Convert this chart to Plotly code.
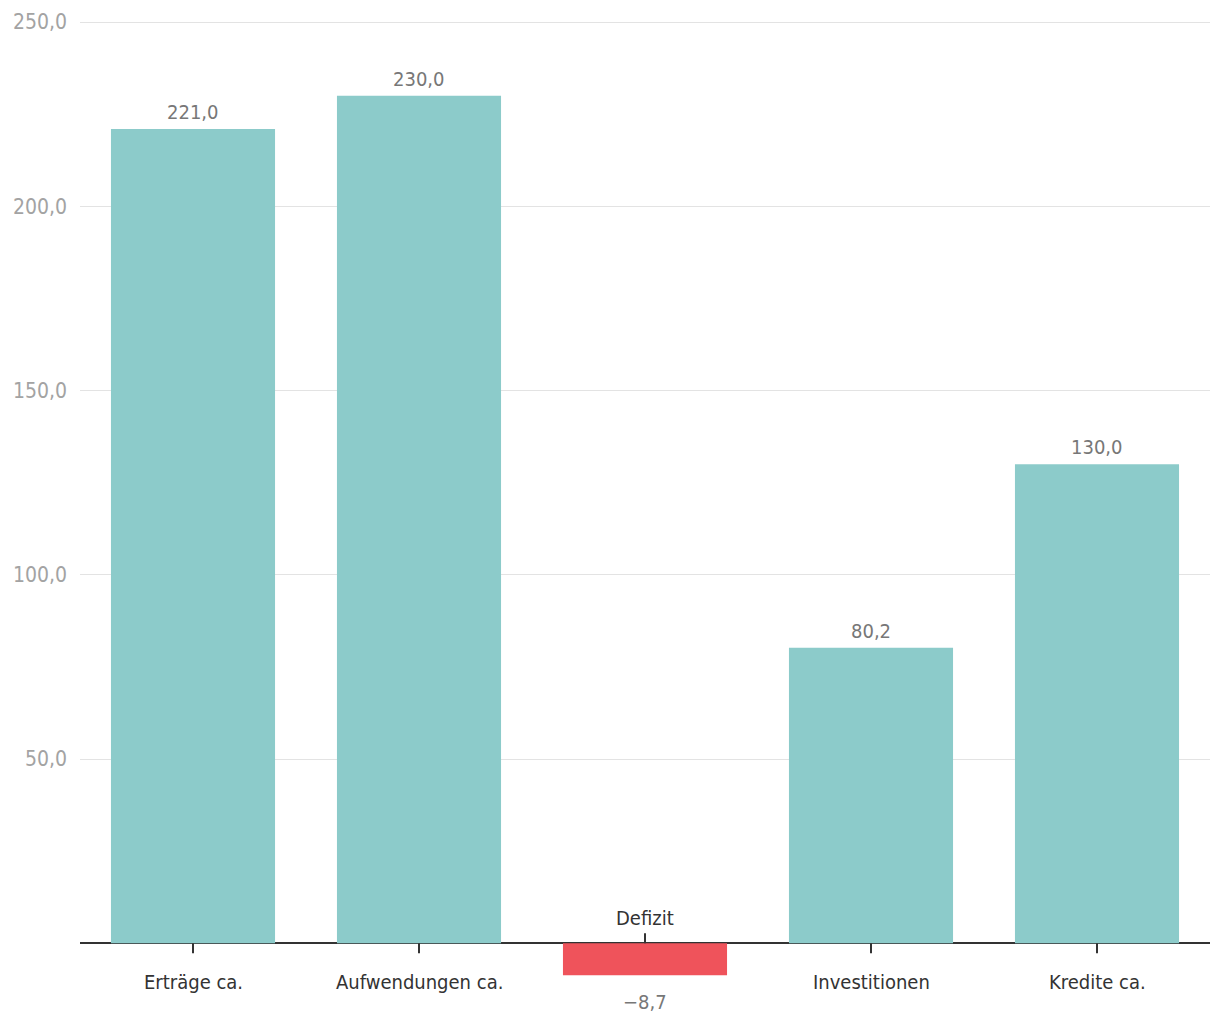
import plotly.graph_objects as go

categories = ["Erträge ca.", "Aufwendungen ca.", "Defizit", "Investitionen", "Kredite ca."]
values = [221.0, 230.0, -8.7, 80.2, 130.0]
y_ticks = [50, 100, 150, 200, 250]

TEAL = "#8ccbca"
RED = "#ef535b"
FONT = "Liberation Sans Narrow, DejaVu Sans Condensed, Roboto, sans-serif"

colours = [TEAL if v >= 0 else RED for v in values]

fig = go.Figure(go.Bar(
    x=categories,
    y=values,
    marker=dict(color=colours, line=dict(width=0)),
    hoverinfo="x+y",
))

# value labels above positive bars, below the negative one
for cat, val in zip(categories, values):
    fig.add_annotation(
        x=cat, y=val, xref="x", yref="y",
        text=f"{val:.1f}".replace(".", ",").replace("-", "\u2212"),
        showarrow=False,
        yanchor="bottom" if val >= 0 else "top",
        yshift=3 if val >= 0 else -13,
        font=dict(family=FONT, size=20, color="#777777"),
    )
    # category label: below the axis, or above it for negative bars
    fig.add_annotation(
        x=cat, y=0, xref="x", yref="y",
        text=cat,
        showarrow=False,
        yanchor="middle",
        yshift=-39 if val >= 0 else 25,
        font=dict(family=FONT, size=20, color="#333333"),
    )
    fig.add_shape(
        type="line", xref="x", yref="y",
        x0=cat, x1=cat, y0=0, y1=(-10 if val >= 0 else 10),
        ysizemode="pixel", yanchor=0,
        line=dict(color="#333333", width=2),
    )

# page body adds an 8px offset, margins compensate for it
fig.update_layout(
    width=1220, height=1020,
    margin=dict(l=72, r=18, t=13, b=0),
    plot_bgcolor="white", paper_bgcolor="white",
    separators=",.",
    bargap=0.274,
    showlegend=False,
    font=dict(family=FONT),
)
fig.update_xaxes(showticklabels=False, showgrid=False, zeroline=False,
                 showline=False, automargin=False)
fig.update_yaxes(
    range=[-23.0, 250.3],
    tickvals=y_ticks,
    tickformat=".1f",
    tickfont=dict(family=FONT, size=21, color="#a3a3a3"),
    ticklabelstandoff=12,
    automargin=False,
    gridcolor="#e3e3e3", gridwidth=1,
    zeroline=True, zerolinecolor="#333333", zerolinewidth=2,
    showline=False,
)

fig.write_html("out.html")
